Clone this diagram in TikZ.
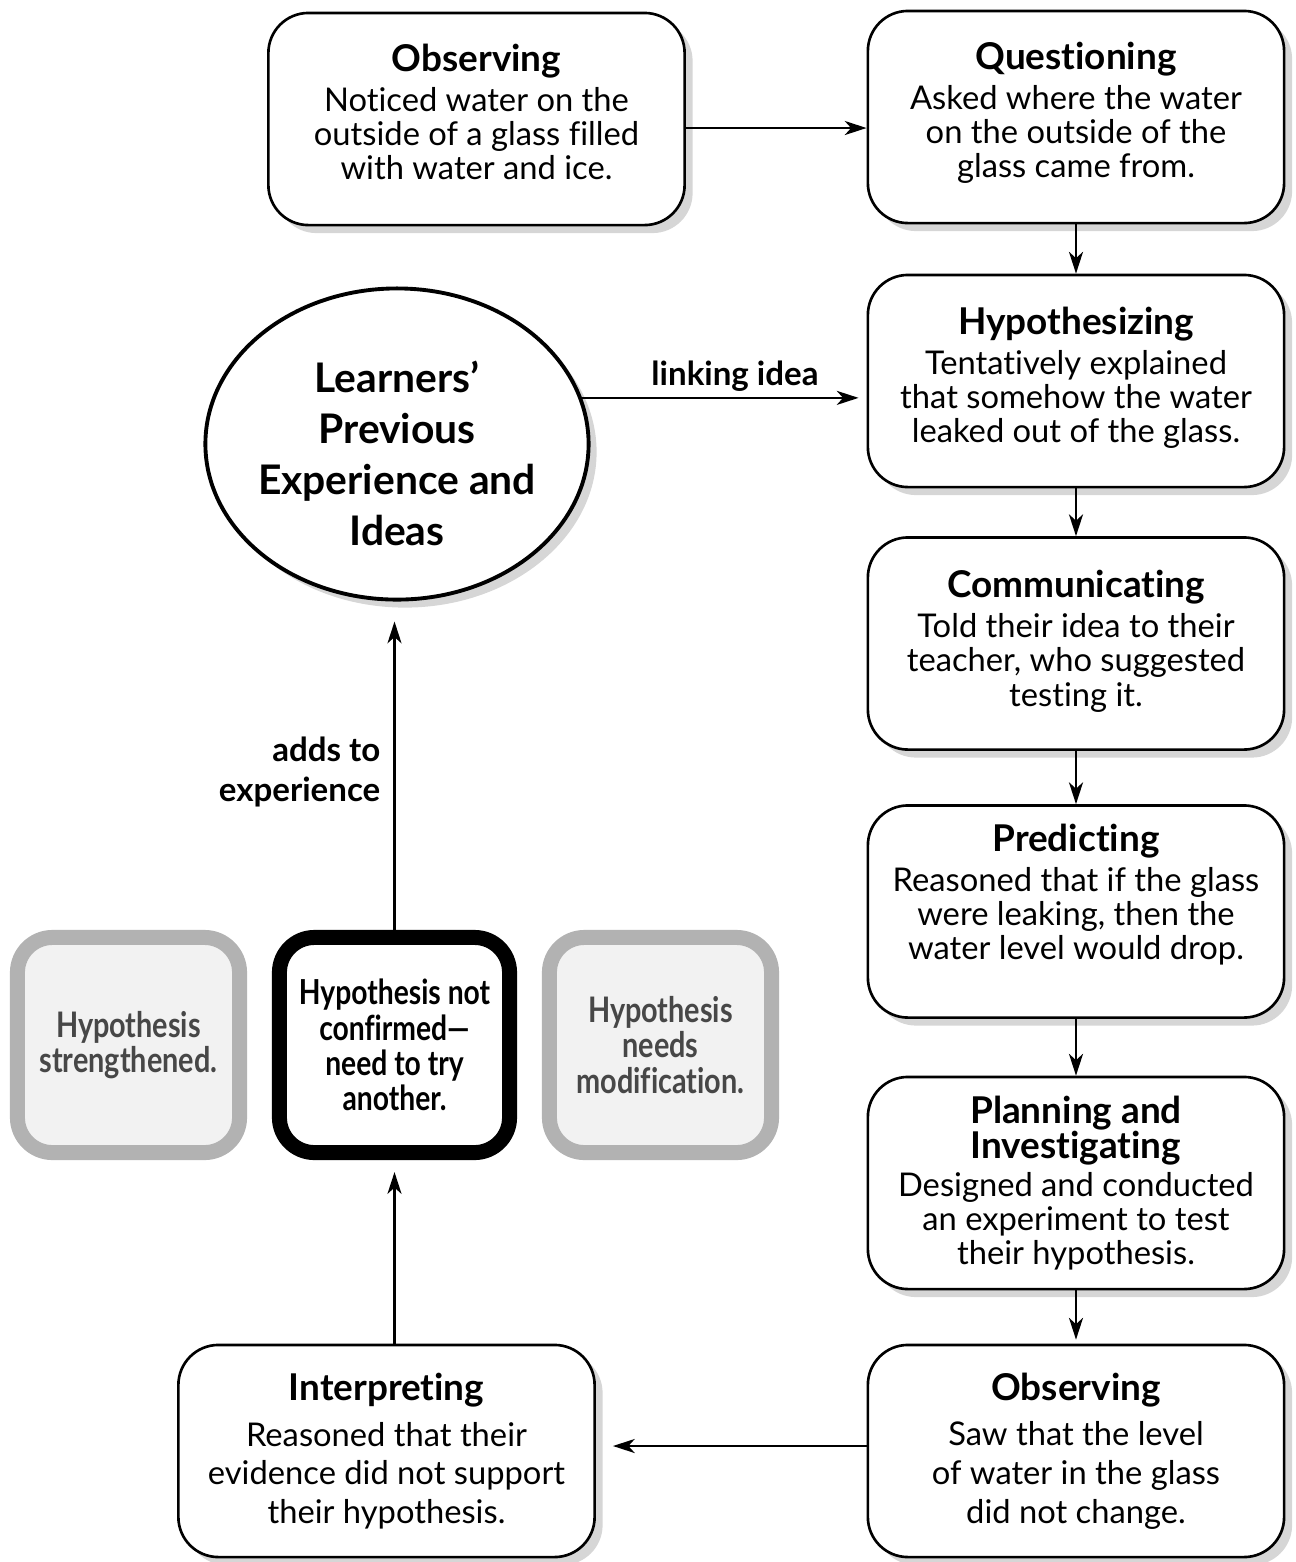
\documentclass[tikz,border=0pt]{standalone}
\usepackage{fontspec}
\setmainfont{Lato}[Ligatures={TeX,NoCommon}]
\newfontfamily\condf{Lato}[FakeStretch=0.82,Ligatures={TeX,NoCommon}]
\usetikzlibrary{shapes.geometric,shadows,arrows.meta}
\newcommand\ttl[1]{{\fontsize{10.5}{12}\selectfont\bfseries #1}}
\newcommand\lift[1]{\rule[-#1]{0pt}{0pt}}
\begin{document}
\begin{tikzpicture}[x=0.01cm,y=-0.01cm,
  shad/.style={drop shadow={shadow xshift=0.08cm,shadow yshift=-0.08cm,fill=black!16,opacity=1}},
  box/.style={draw,line width=0.75pt,rounded corners=0.4cm,fill=white,shad,
    minimum width=4.16cm,minimum height=2.12cm,align=center,inner sep=0pt,
    font=\fontsize{9.3}{9.7}\selectfont},
  sidebox/.style={draw=black!30,fill=black!5,line width=0.15cm,rounded corners=0.35cm,
    minimum width=2.22cm,minimum height=2.15cm,align=center,inner sep=0pt,text=black!72,
    font=\condf\bfseries\fontsize{10}{10}\selectfont},
  arr/.style={draw,line width=0.6pt,-{Stealth[length=6.2pt,width=4pt,inset=1.8pt]}},
  lbl/.style={font=\bfseries\fontsize{9.4}{11.2}\selectfont,inner sep=0pt}
]
\useasboundingbox (0,0) rectangle (1296,1562);

\node[box] (obs1) at (476.5,119) {\ttl{Observing}\\[1.7pt]Noticed water on the\\outside of a glass filled\\with water and ice.\lift{4pt}};
\node[box] (quest) at (1076,117) {\ttl{Questioning}\\[1.7pt]Asked where the water\\on the outside of the\\glass came from.\lift{4pt}};
\node[box] (hyp) at (1076,381) {\ttl{Hypothesizing}\\[1.7pt]Tentatively explained\\that somehow the water\\leaked out of the glass.\lift{3.6pt}};
\node[box] (comm) at (1076,643.5) {\ttl{Communicating}\\[1.7pt]Told their idea to their\\teacher, who suggested\\testing it.\lift{3pt}};
\node[box] (pred) at (1076,911.5) {\ttl{Predicting}\\[1.7pt]Reasoned that if the glass\\were leaking, then the\\water level would drop.\lift{11.4pt}};
\node[box] (plan) at (1076,1183) {\ttl{Planning and}\\[0.3pt]\ttl{Investigating}\\[1.2pt]Designed and conducted\\an experiment to test\\their hypothesis.};
\node[box,font=\fontsize{9.3}{11}\selectfont] (obs2) at (1076,1451) {\ttl{Observing}\\[2pt]Saw that the level\\of water in the glass\\did not change.};
\node[box,font=\fontsize{9.3}{11}\selectfont] (interp) at (386.5,1451) {\ttl{Interpreting}\\[2pt]Reasoned that their\\evidence did not support\\their hypothesis.};

\node[ellipse,draw,line width=1.1pt,fill=white,shad,minimum width=3.83cm,minimum height=3.11cm,
  inner sep=0pt] (ell) at (397,444) {};
\node[align=center,inner sep=0pt,font=\bfseries\fontsize{11.6}{14.5}\selectfont] (elltxt) at (397,453)
  {Learners'\\Previous\\Experience and\\Ideas};

\node[sidebox] (str) at (128.5,1045) {Hypothesis\\strengthened.};
\node[sidebox,draw=black,fill=white,text=black,minimum width=2.3cm,font=\condf\bfseries\fontsize{9.8}{10}\selectfont] (nc) at (394.5,1045) {Hypothesis not\\confirmed—\\need to try\\another.};
\node[sidebox] (mod) at (660.5,1045) {Hypothesis\\needs\\modification.};

\draw[arr] (obs1.east |- 0,128) -- (quest.west |- 0,128);
\draw[arr] (quest) -- (hyp);
\draw[arr] (hyp) -- (comm);
\draw[arr] (comm) -- (pred);
\draw[arr] (pred) -- (plan);
\draw[arr,shorten >=0.04cm] (plan) -- (obs2);
\draw[arr,shorten >=0.08cm] (ell.14) -- (hyp.west |- ell.14);
\node[lbl] (link) at (735,376) {linking idea};
\draw[arr,shorten >=0.17cm] (obs2.west |- 0,1446) -- (interp.east |- 0,1446);
\draw[arr,shorten >=0.12cm] (interp.north -| nc) -- (nc.south);
\draw[arr,shorten >=0.2cm] (nc.north) -- (nc.north |- ell.south);
\node[lbl,align=right,anchor=east] (adds) at (381,772) {adds to\\experience};
\end{tikzpicture}
\end{document}
